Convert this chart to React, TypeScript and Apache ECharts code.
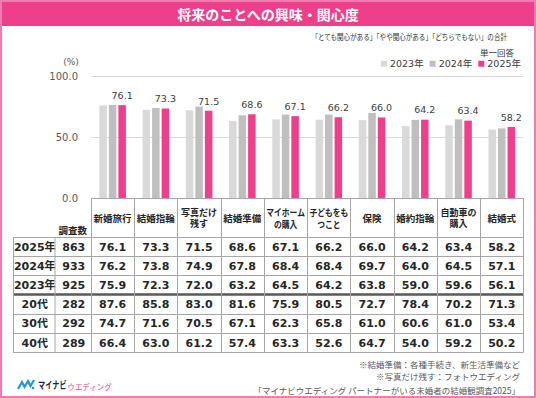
import React, { useEffect, useRef } from "react";
import * as echarts from "echarts";

const categories = [
  "新婚旅行",
  "結婚指輪",
  "写真だけ\n残す",
  "結婚準備",
  "マイホーム\nの購入",
  "子どもをも\nつこと",
  "保険",
  "婚約指輪",
  "自動車の\n購入",
  "結婚式",
];
const seriesNames = ["2023年", "2024年", "2025年"];
const values2023 = [75.9, 72.3, 72.0, 63.2, 64.5, 64.2, 63.8, 59.0, 59.6, 56.1];
const values2024 = [76.2, 73.8, 74.9, 67.8, 68.4, 68.4, 69.7, 64.0, 64.5, 57.1];
const values2025 = [76.1, 73.3, 71.5, 68.6, 67.1, 66.2, 66.0, 64.2, 63.4, 58.2];
const values20s = [87.6, 85.8, 83.0, 81.6, 75.9, 80.5, 72.7, 78.4, 70.2, 71.3];
const values30s = [74.7, 71.6, 70.5, 67.1, 62.3, 65.8, 61.0, 60.6, 61.0, 53.4];
const values40s = [66.4, 63.0, 61.2, 57.4, 63.3, 52.6, 64.7, 54.0, 59.2, 50.2];
const rowLabels = ["2025年", "2024年", "2023年", "20代", "30代", "40代"];
const sampleSizes = [863, 933, 925, 282, 292, 289];
const tableRows = [values2025, values2024, values2023, values20s, values30s, values40s];
const yTicks = [0, 50, 100];

const PINK = "#EE3F8B";
const FRAME = "#F27BB0";
const C2023 = "#D9D9D9";
const C2024 = "#BFBFBF";

export default function App() {
  const ref = useRef<HTMLDivElement>(null);
  useEffect(() => {
    if (!ref.current) return;
    const chart = echarts.init(ref.current, undefined, { renderer: "svg" });

    const W = 536;
    const H = 398;
    const gridLeft = 91;
    const gridRightX = 523.4;
    const gridTop = 76;
    const gridBottomY = 198;
    const colW = (gridRightX - gridLeft) / categories.length;
    const headTop = 198;
    const headBottom = 237;
    const rowH = 19.2;
    const x0 = 13;
    const x1 = 54.5;
    const tableBottom = headBottom + rowH * rowLabels.length;
    const lineColor = "#A6A6A6";
    const numFont = 'bold 11px "DejaVu Sans", "Noto Sans CJK JP", sans-serif';
    const jp = '"Noto Sans CJK JP", sans-serif';

    const g: any[] = [];
    g.push({ type: "rect", shape: { x: 0, y: 0, width: W, height: 26 }, style: { fill: PINK }, z: 1 });
    g.push({
      type: "rect",
      shape: { x: 1, y: 1, width: W - 2, height: H - 2 },
      style: { fill: "none", stroke: FRAME, lineWidth: 2 },
      z: 2,
    });
    g.push({
      type: "text",
      x: W / 2,
      y: 14,
      style: {
        text: "将来のことへの興味・関心度",
        fill: "#fff",
        font: `bold 14px ${jp}`,
        textAlign: "center",
        textVerticalAlign: "middle",
      },
      z: 3,
    });
    g.push({
      type: "text",
      x: 507,
      y: 37,
      scaleX: 0.82,
      style: {
        text: "「とても関心がある」「やや関心がある」「どちらでもない」の合計",
        fill: "#333333",
        font: `8px ${jp}`,
        textAlign: "right",
        textVerticalAlign: "middle",
      },
    });
    g.push({
      type: "text",
      x: 514,
      y: 52,
      style: {
        text: "単一回答",
        fill: "#333333",
        font: `8.5px ${jp}`,
        textAlign: "right",
        textVerticalAlign: "middle",
      },
    });
    g.push({
      type: "text",
      x: 71,
      y: 62,
      style: {
        text: "(%)",
        fill: "#595959",
        font: '9px "DejaVu Sans", sans-serif',
        textAlign: "center",
        textVerticalAlign: "middle",
      },
    });

    const hline = (y: number, xa: number, xb: number, color = lineColor, lw = 1) =>
      g.push({ type: "line", shape: { x1: xa, y1: y, x2: xb, y2: y }, style: { stroke: color, lineWidth: lw }, z: 5 });
    const vline = (x: number, ya: number, yb: number) =>
      g.push({ type: "line", shape: { x1: x, y1: ya, x2: x, y2: yb }, style: { stroke: lineColor, lineWidth: 1 }, z: 5 });

    hline(headTop + 0.5, gridLeft, gridRightX);
    for (let i = 0; i <= rowLabels.length; i++) {
      const y = headBottom + i * rowH;
      if (i === 3) hline(y, x0, gridRightX, "#595959", 2.5);
      else hline(Math.round(y) + 0.5, x0, gridRightX);
    }
    vline(x0 + 0.5, headBottom, tableBottom);
    vline(x1 + 0.5, headBottom, tableBottom);
    for (let k = 0; k <= categories.length; k++) {
      vline(Math.round(gridLeft + k * colW) + 0.5, headTop, tableBottom);
    }
    g.push({
      type: "text",
      x: (x1 + gridLeft) / 2,
      y: 230,
      style: {
        text: "調査数",
        fill: "#262626",
        font: `bold 9.5px ${jp}`,
        textAlign: "center",
        textVerticalAlign: "middle",
      },
    });
    categories.forEach((c, k) => {
      const lines = c.split("\n");
      const longest = Math.max(...lines.map((s) => s.length));
      const sx = longest >= 5 ? 0.82 : lines.length > 1 ? 0.95 : 1;
      g.push({
        type: "text",
        x: gridLeft + (k + 0.5) * colW,
        y: (headTop + headBottom) / 2,
        scaleX: sx,
        style: {
          text: c,
          fill: "#262626",
          font: `bold 9.5px ${jp}`,
          lineHeight: 11.5,
          textAlign: "center",
          textVerticalAlign: "middle",
        },
      });
    });
    rowLabels.forEach((lab, i) => {
      const cy = headBottom + (i + 0.5) * rowH + 0.5;
      g.push({
        type: "text",
        x: (x0 + x1) / 2 + 1,
        y: cy,
        style: { text: lab, fill: "#262626", font: numFont, textAlign: "center", textVerticalAlign: "middle" },
      });
      g.push({
        type: "text",
        x: (x1 + gridLeft) / 2 + 1,
        y: cy,
        style: {
          text: String(sampleSizes[i]),
          fill: "#262626",
          font: numFont,
          textAlign: "center",
          textVerticalAlign: "middle",
        },
      });
      tableRows[i].forEach((v, k) => {
        g.push({
          type: "text",
          x: gridLeft + (k + 0.5) * colW,
          y: cy,
          style: {
            text: v.toFixed(1),
            fill: "#262626",
            font: numFont,
            textAlign: "center",
            textVerticalAlign: "middle",
          },
        });
      });
    });
    const notes = [
      ["※結婚準備：各種手続き、新生活準備など", 364],
      ["※写真だけ残す：フォトウエディング", 376],
      ["「マイナビウエディング パートナーがいる未婚者の結婚観調査2025」", 390],
    ];
    notes.forEach(([t, y]) =>
      g.push({
        type: "text",
        x: 520,
        y: y as number,
        style: {
          text: t as string,
          fill: "#595959",
          font: `8.5px ${jp}`,
          textAlign: "right",
          textVerticalAlign: "middle",
        },
      })
    );
    g.push({
      type: "polyline",
      shape: { points: [[18, 389], [22, 382], [24.5, 387], [28, 381], [30.5, 386], [34, 380]] },
      style: { stroke: "#1F97D5", lineWidth: 2.2, fill: "none" },
    });
    g.push({ type: "circle", shape: { cx: 33, cy: 388, r: 1.3 }, style: { fill: "#1F97D5" } });
    g.push({
      type: "text",
      x: 38,
      y: 385,
      scaleX: 0.72,
      style: {
        text: "マイナビ",
        fill: "#1B2440",
        font: `bold 10px ${jp}`,
        textAlign: "left",
        textVerticalAlign: "middle",
      },
    });
    g.push({
      type: "text",
      x: 67.5,
      y: 386,
      scaleX: 0.93,
      style: {
        text: "ウエディング",
        fill: "#E8458E",
        font: `8px ${jp}`,
        textAlign: "left",
        textVerticalAlign: "middle",
      },
    });

    const barCommon = { type: "bar" as const, barWidth: 7.5, barGap: "27%" };

    chart.setOption({
      animation: false,
      textStyle: { fontFamily: '"DejaVu Sans", "Noto Sans CJK JP", sans-serif' },
      legend: {
        data: seriesNames,
        right: 15,
        top: 59,
        itemWidth: 6,
        itemHeight: 6,
        itemGap: 6,
        icon: "rect",
        padding: 0,
        textStyle: {
          fontSize: 9.5,
          color: "#404040",
          fontFamily: '"DejaVu Sans", "Noto Sans CJK JP", sans-serif',
          padding: [0, 0, 0, -2],
        },
      },
      grid: { left: gridLeft, right: W - gridRightX, top: gridTop, bottom: H - gridBottomY, containLabel: false },
      xAxis: {
        type: "category",
        data: categories,
        axisLine: { show: false },
        axisTick: { show: false },
        axisLabel: { show: false },
      },
      yAxis: {
        type: "value",
        min: yTicks[0],
        max: yTicks[yTicks.length - 1],
        interval: yTicks[1] - yTicks[0],
        axisLine: { show: false },
        axisTick: { show: false },
        axisLabel: { color: "#595959", fontSize: 10, margin: 13, formatter: (v: number) => v.toFixed(1) },
        splitLine: { lineStyle: { color: "#D9D9D9" } },
      },
      series: [
        { ...barCommon, name: seriesNames[0], data: values2023, itemStyle: { color: C2023 } },
        { ...barCommon, name: seriesNames[1], data: values2024, itemStyle: { color: C2024 } },
        {
          ...barCommon,
          name: seriesNames[2],
          data: values2025,
          itemStyle: { color: PINK },
          label: {
            show: true,
            position: "top",
            distance: 5,
            color: "#404040",
            fontSize: 9.5,
            formatter: (p: any) => Number(p.value).toFixed(1),
          },
        },
      ],
      graphic: { elements: g },
    });
    return () => chart.dispose();
  }, []);
  return <div ref={ref} style={{ position: "fixed", left: 0, top: 0, width: 536, height: 398, background: "#fff" }} />;
}
